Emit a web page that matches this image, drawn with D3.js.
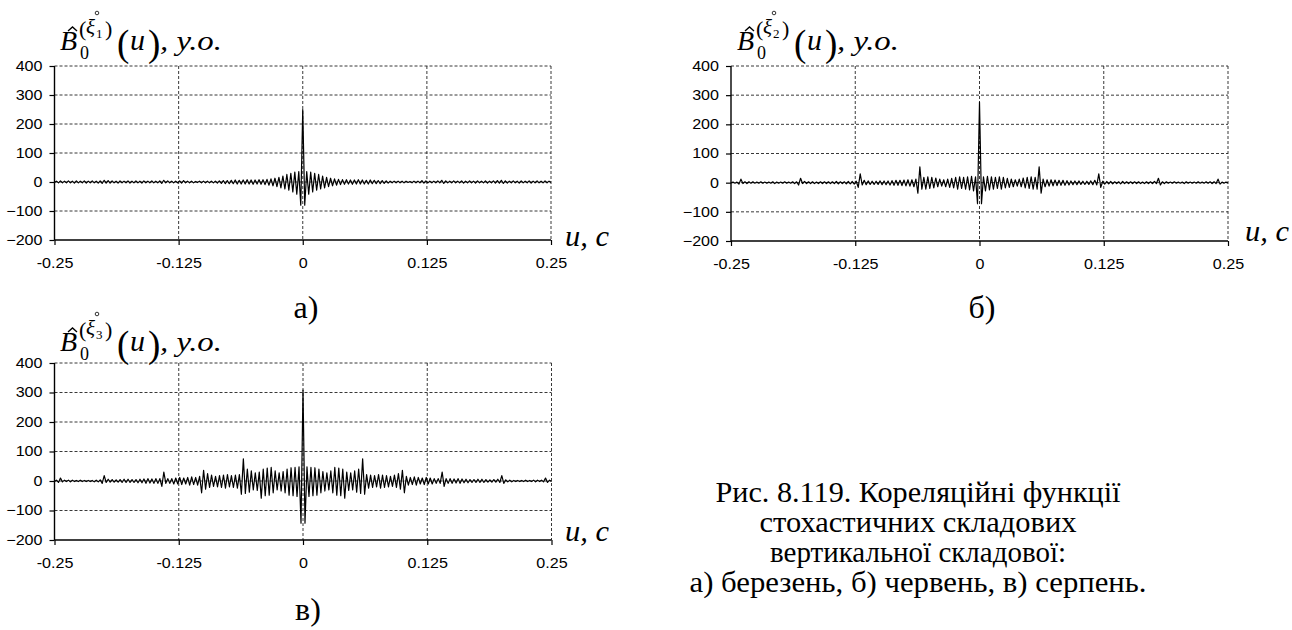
<!DOCTYPE html>
<html>
<head>
<meta charset="utf-8">
<script src="https://cdn.jsdelivr.net/npm/d3@7"></script>
<style>
  body { margin: 0; background: #fff; }
  svg { display: block; }
</style>
</head>
<body>
<svg id="fig" width="1292" height="630"></svg>
<script>
// Lag step of the estimated correlation functions, seconds
const lagStep = 0.002;

// Axis ticks shared by all three panels
const lagTicks = [-0.25, -0.125, 0, 0.125, 0.25];
const lagTickLabels = ["-0.25", "-0.125", "0", "0.125", "0.25"];
const valueTicks = [-200, -100, 0, 100, 200, 300, 400];

// One-sided correlation estimates B(u) for u = 0, 0.002, ..., 0.25 (even function)
const corrMarch = [
  250, -80, 36, -42, 34, -34, 30, -28, 26, -24,
  20, -20, 16, -16, 13, -13, 11, -11, 9, -9,
  8, -8, 8, -7, 7, -8, 7, -7, 8, -7,
  7, -7, 6, -7, 7, -6, 6, -6, 5, -6,
  5, -5, 4, -4, 3, -3, 3, -3, 3, -3,
  3, -3, 3, -2, 2, -3, 3, -3, 3, -3,
  5, -4, 4, -3, 3, -3, 3, -3, 4, -3,
  6, -5, 4, -3, 3, -3, 4, -3, 3, -3,
  4, -4, 3, -3, 4, -3, 3, -4, 4, -3,
  3, -3, 4, -4, 3, -3, 4, -4, 5, -4,
  6, -5, 4, -4, 3, -3, 4, -3, 3, -4,
  4, -3, 3, -3, 4, -4, 3, -3, 4, -3,
  3, -3, 4, -3, 3, -2
];

const corrJune = [
  276, -72, 20, -28, 22, -25, 20, -22, 18, -20,
  20, -22, 18, -18, 15, -16, 12, -14, 10, -12,
  12, -14, 16, -18, 18, -20, 20, -22, 18, -22,
  54, -36, 12, -14, 10, -12, 10, -11, 9, -10,
  8, -9, 8, -9, 7, -8, 6, -7, 6, -7,
  6, -6, 5, -6, 5, -6, 6, -7, 8, -8,
  30, -16, 5, -5, 4, -4, 4, -4, 3, -3,
  3, -4, 4, -3, 3, -3, 3, -3, 3, -3,
  3, -3, 2, -3, 3, -3, 3, -3, 4, -3,
  15, -8, 3, -3, 3, -2, 2, -2, 3, -2,
  2, -2, 2, -3, 3, -2, 2, -2, 2, -2,
  3, -2, 2, -2, 3, -2, 3, -3, 3, -3,
  12, -5, 2, -2, 2, -1
];

const corrAugust = [
  308, -143, 48, -52, 46, -50, 45, -48, 40, -40,
  32, -34, 28, -30, 34, -40, 46, -48, 44, -50,
  40, -58, 30, -32, 28, -30, 34, -38, 40, -42,
  75, -45, 22, -24, 20, -22, 18, -20, 22, -24,
  20, -22, 18, -20, 16, -18, 20, -22, 25, -28,
  36, -40, 16, -14, 12, -12, 14, -14, 12, -10,
  10, -12, 12, -10, 10, -10, 8, -8, 8, -8,
  30, -18, 8, -8, 8, -8, 7, -7, 8, -8,
  7, -6, 6, -6, 5, -5, 5, -5, 6, -5,
  6, -5, 5, -4, 4, -4, 5, -4, 6, -5,
  18, -8, 4, -3, 3, -3, 2, -2, 2, -2,
  2, -2, 3, -2, 2, -2, 3, -3, 3, -2,
  3, -3, 10, -5, 3, -2
];

const seriesIndex = ["1", "2", "3"];
const panelLetters = ["а)", "б)", "в)"];
const captionLines = [
  "Рис. 8.119. Кореляційні функції",
  "стохастичних складових",
  "вертикальної складової:",
  "а) березень, б) червень, в) серпень."
];

const svg = d3.select("#fig");
const SERIF = "'Liberation Serif', 'Times New Roman', serif";
const SANS = "'Liberation Sans', Arial, sans-serif";

// stretch a text node horizontally by a factor, or to an absolute width
function stretch(node, factor, width) {
  const w = node.getComputedTextLength();
  node.setAttribute("textLength", width != null ? width : w * factor);
  node.setAttribute("lengthAdjust", "spacingAndGlyphs");
}

const panels = [
  { data: corrMarch,  x0: 54.5, x1: 551,   yTop: 66,  yBot: 240, title: [60, 50],   unit: [565, 246],  letter: [306, 318] },
  { data: corrJune,   x0: 731,  x1: 1228,  yTop: 66,  yBot: 241, title: [737, 50],  unit: [1245, 241], letter: [982, 318] },
  { data: corrAugust, x0: 54.5, x1: 551.5, yTop: 363, yBot: 540, title: [60, 351],  unit: [565, 541],  letter: [308, 620] }
];

panels.forEach((p, i) => {
  const x = d3.scaleLinear().domain([-0.25, 0.25]).range([p.x0, p.x1]);
  const y = d3.scaleLinear().domain([-200, 400]).range([p.yBot, p.yTop]);
  const g = svg.append("g");

  // dashed grid
  g.append("g").selectAll("line.h")
    .data(valueTicks.filter(v => v > -200))
    .join("line")
    .attr("x1", p.x0).attr("x2", p.x1)
    .attr("y1", d => y(d)).attr("y2", d => y(d))
    .attr("stroke", "#222").attr("stroke-width", 0.9)
    .attr("stroke-dasharray", "3,2");
  g.append("g").selectAll("line.v")
    .data(lagTicks.filter(v => v > -0.25))
    .join("line")
    .attr("x1", d => x(d)).attr("x2", d => x(d))
    .attr("y1", p.yTop).attr("y2", p.yBot)
    .attr("stroke", "#222").attr("stroke-width", 0.9)
    .attr("stroke-dasharray", "3,2");

  // correlation trace, mirrored to negative lags
  const n = p.data.length;
  const pts = [];
  for (let k = n - 1; k >= 1; k--) pts.push([-k * lagStep, p.data[k]]);
  for (let k = 0; k < n; k++) pts.push([k * lagStep, p.data[k]]);
  g.append("path")
    .datum(pts)
    .attr("fill", "none")
    .attr("stroke", "#000")
    .attr("stroke-width", 1.2)
    .attr("stroke-linejoin", "round")
    .attr("d", d3.line().x(d => x(d[0])).y(d => y(d[1])));

  // axes
  const yAxis = d3.axisLeft(y).tickValues(valueTicks).tickSize(5).tickPadding(7).tickFormat(d3.format("d"));
  const xAxis = d3.axisBottom(x).tickValues(lagTicks).tickSize(5).tickPadding(13)
    .tickFormat((d, j) => lagTickLabels[j]);
  const ya = g.append("g").attr("transform", `translate(${p.x0},0)`).call(yAxis);
  const xa = g.append("g").attr("transform", `translate(0,${p.yBot})`).call(xAxis);
  [ya, xa].forEach(a => {
    a.select(".domain").attr("stroke", "#000").attr("stroke-width", 1.4);
    a.selectAll(".tick line").attr("stroke", "#000").attr("stroke-width", 1.2);
    a.selectAll(".tick text")
      .attr("fill", "#000")
      .style("font-family", SANS)
      .style("font-size", "14px")
      .each(function () { stretch(this, 1.15); });
  });
  ya.select(".domain").attr("d", `M0,${p.yBot}V${p.yTop}`);
  xa.select(".domain").attr("d", `M${p.x0},0H${p.x1}`);

  // title: B-hat, superscript (xi_i) with ring, subscript 0, (u), y.o.
  const [tx, ty] = p.title;
  const t = g.append("g").attr("font-family", SERIF).attr("fill", "#000");
  t.append("text").attr("x", tx).attr("y", ty).attr("font-size", 28).attr("font-style", "italic").text("B");
  t.append("path")
    .attr("d", `M${tx + 8},${ty - 19}L${tx + 12.5},${ty - 23}L${tx + 17},${ty - 19}`)
    .attr("fill", "none").attr("stroke", "#000").attr("stroke-width", 1.4);
  t.append("text").attr("x", tx + 20).attr("y", ty + 9).attr("font-size", 18).text("0");
  t.append("text").attr("x", tx + 19).attr("y", ty - 14).attr("font-size", 22).text("(");
  t.append("text").attr("x", tx + 26).attr("y", ty - 16).attr("font-size", 21).attr("font-style", "italic").text("ξ");
  t.append("text").attr("x", tx + 36).attr("y", ty - 12).attr("font-size", 13).text(seriesIndex[i]);
  t.append("text").attr("x", tx + 45).attr("y", ty - 14).attr("font-size", 22).text(")");
  t.append("circle").attr("cx", tx + 37).attr("cy", ty - 37).attr("r", 1.8)
    .attr("fill", "none").attr("stroke", "#000").attr("stroke-width", 0.8);
  t.append("text").attr("x", tx + 57).attr("y", ty + 6).attr("font-size", 37).text("(");
  t.append("text").attr("x", tx + 70).attr("y", ty).attr("font-size", 30).attr("font-style", "italic").text("u");
  t.append("text").attr("x", tx + 88).attr("y", ty + 6).attr("font-size", 37).text(")");
  t.append("text").attr("x", tx + 100).attr("y", ty).attr("font-size", 28).attr("font-style", "italic")
    .text(", y.o.").each(function () { stretch(this, 1, 62); });

  // lag axis label
  g.append("text").attr("x", p.unit[0]).attr("y", p.unit[1])
    .attr("font-family", SERIF).attr("font-size", 29).attr("font-style", "italic")
    .text("u, с").each(function () { stretch(this, 1, 44); });

  // panel letter
  g.append("text").attr("x", p.letter[0]).attr("y", p.letter[1])
    .attr("text-anchor", "middle")
    .attr("font-family", SERIF).attr("font-size", 32)
    .text(panelLetters[i]);
});

// figure caption
const capWidths = [405, 317, 296, 457];
svg.append("g").selectAll("text")
  .data(captionLines)
  .join("text")
  .attr("x", 918)
  .attr("y", (d, i) => 502 + i * 30)
  .attr("text-anchor", "middle")
  .attr("font-family", SERIF)
  .attr("font-size", 30)
  .attr("fill", "#000")
  .text(d => d)
  .each(function (d, i) { stretch(this, 1, capWidths[i]); });
</script>
</body>
</html>
